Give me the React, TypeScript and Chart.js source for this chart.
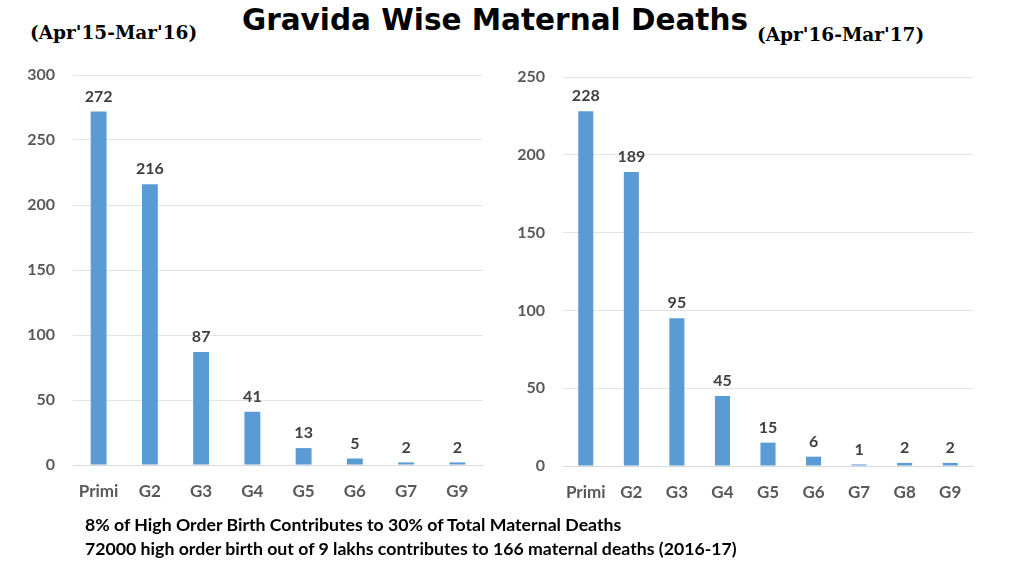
import React, { useEffect, useRef } from "react";
import { Chart, registerables } from "chart.js";

Chart.register(...registerables);

const categories1 = ["Primi", "G2", "G3", "G4", "G5", "G6", "G7", "G9"];
const values1 = [272, 216, 87, 41, 13, 5, 2, 2];
const categories2 = ["Primi", "G2", "G3", "G4", "G5", "G6", "G7", "G8", "G9"];
const values2 = [228, 189, 95, 45, 15, 6, 1, 2, 2];

const BAR = "#5b9bd5";
const FONT = "Lato, 'Open Sans', sans-serif";

const valueLabels = {
  id: "valueLabels",
  afterDatasetsDraw(chart: any) {
    const ctx = chart.ctx;
    const meta = chart.getDatasetMeta(0);
    const data = chart.data.datasets[0].data;
    ctx.save();
    ctx.font = `bold 16px ${FONT}`;
    ctx.fillStyle = "#404040";
    ctx.textAlign = "center";
    ctx.textBaseline = "bottom";
    meta.data.forEach((bar: any, i: number) => {
      ctx.fillText(String(data[i]), bar.x, bar.y - 7);
    });
    ctx.restore();
  },
};

function makeChart(
  canvas: HTMLCanvasElement,
  labels: string[],
  values: number[],
  max: number,
  step: number,
  yWidth: number,
  xHeight: number,
  padTop: number,
  padRight: number,
  barPct: number
) {
  return new Chart(canvas, {
    type: "bar",
    data: {
      labels,
      datasets: [
        {
          data: values,
          backgroundColor: BAR,
          barPercentage: barPct,
          categoryPercentage: 1,
        },
      ],
    },
    options: {
      animation: false,
      responsive: false,
      maintainAspectRatio: false,
      layout: { padding: { top: padTop, right: padRight, left: 0, bottom: 0 } },
      plugins: { legend: { display: false }, tooltip: { enabled: false } },
      scales: {
        x: {
          grid: { display: false },
          border: { color: "#d9d9d9", width: 1 },
          ticks: {
            color: "#595959",
            font: { family: FONT, size: 17, weight: "bold" },
            padding: 8,
            maxRotation: 0,
            minRotation: 0,
            autoSkip: false,
          },
          afterFit(scale: any) {
            scale.height = xHeight;
            scale.paddingLeft = 0;
            scale.paddingRight = 0;
          },
        },
        y: {
          min: 0,
          max,
          grid: { color: "#e3e3e3", drawTicks: false },
          border: { display: false },
          ticks: {
            stepSize: step,
            color: "#595959",
            font: { family: FONT, size: 16, weight: "bold" },
            padding: 18,
          },
          afterFit(scale: any) {
            scale.width = yWidth;
            scale.paddingTop = 0;
            scale.paddingBottom = 0;
          },
        },
      },
    },
    plugins: [valueLabels],
  });
}

export default function App() {
  const ref1 = useRef<HTMLCanvasElement>(null);
  const ref2 = useRef<HTMLCanvasElement>(null);

  useEffect(() => {
    const c1 = makeChart(ref1.current!, categories1, values1, 300, 50, 73, 50, 15, 12, 0.31);
    const c2 = makeChart(ref2.current!, categories2, values2, 250, 50, 63, 49, 17, 17, 0.33);
    return () => {
      c1.destroy();
      c2.destroy();
    };
  }, []);

  return (
    <div
      style={{
        position: "fixed",
        left: 0,
        top: 0,
        width: 1024,
        height: 576,
        background: "#fff",
        overflow: "hidden",
      }}
    >
      <div
        style={{
          position: "absolute",
          left: 0,
          width: 990,
          top: 3,
          textAlign: "center",
          font: "bold 29.5px 'DejaVu Sans', sans-serif",
          color: "#000",
          whiteSpace: "nowrap",
        }}
      >
        Gravida Wise Maternal Deaths
      </div>
      <div
        style={{
          position: "absolute",
          left: 30,
          top: 22,
          font: "bold 18.5px 'DejaVu Serif', serif",
          color: "#000",
          whiteSpace: "nowrap",
        }}
      >
        (Apr'15-Mar'16)
      </div>
      <div
        style={{
          position: "absolute",
          left: 757,
          top: 24,
          font: "bold 18.5px 'DejaVu Serif', serif",
          color: "#000",
          whiteSpace: "nowrap",
        }}
      >
        (Apr'16-Mar'17)
      </div>
      <canvas
        ref={ref1}
        width={495}
        height={455}
        style={{ position: "absolute", left: 0, top: 60, width: 495, height: 455 }}
      />
      <canvas
        ref={ref2}
        width={490}
        height={455}
        style={{ position: "absolute", left: 500, top: 60, width: 490, height: 455 }}
      />
      <div
        style={{
          position: "absolute",
          left: 85,
          top: 513,
          font: "bold 17.7px Lato, sans-serif",
          lineHeight: "24px",
          color: "#000",
          whiteSpace: "nowrap",
        }}
      >
        <div>8% of High Order Birth Contributes to 30% of Total Maternal Deaths</div>
        <div>72000 high order birth out of 9 lakhs contributes to 166 maternal deaths (2016-17)</div>
      </div>
    </div>
  );
}
